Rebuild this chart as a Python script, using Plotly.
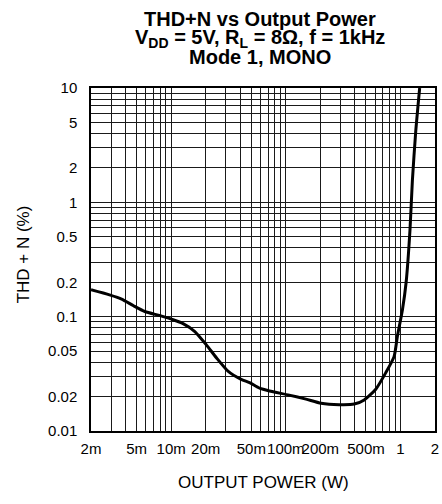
import plotly.graph_objects as go

# Data
power_w = [0.002, 0.0029, 0.0037, 0.0047, 0.0059, 0.008, 0.0104, 0.0127, 0.016,
           0.0202, 0.0248, 0.0313, 0.0408, 0.0483, 0.059, 0.072, 0.107, 0.150,
           0.203, 0.292, 0.395, 0.483, 0.609, 0.745, 0.879, 0.94, 1.04, 1.12,
           1.21, 1.27, 1.36, 1.47]
thd_pct = [0.172, 0.155, 0.1426, 0.1246, 0.111, 0.102, 0.094, 0.087, 0.0745,
           0.057, 0.0437, 0.0334, 0.0283, 0.0265, 0.0237, 0.0224, 0.0206, 0.019,
           0.0175, 0.017, 0.0172, 0.0187, 0.0232, 0.0324, 0.0447, 0.0675, 0.115, 0.2,
           0.571, 1.55, 4.23, 10.0]

x_tick_vals = [0.002, 0.005, 0.01, 0.02, 0.05, 0.1, 0.2, 0.5, 1, 2]
x_tick_text = ["2m", "5m", "10m", "20m", "50m", "100m", "200m", "500m", "1", "2"]
y_tick_vals = [0.01, 0.02, 0.05, 0.1, 0.2, 0.5, 1, 2, 5, 10]
y_tick_text = ["0.01", "0.02", "0.05", "0.1", "0.2", "0.5", "1", "2", "5", "10"]

title_lines = ["THD+N vs Output Power",
               "V<sub>DD</sub> = 5V, R<sub>L</sub> = 8Ω, f = 1kHz",
               "Mode 1, MONO"]
x_title = "OUTPUT POWER (W)"
y_title = "THD + N (%)"


def log_grid(lo_exp, hi_exp, lo, hi):
    vals = []
    for e in range(lo_exp, hi_exp + 1):
        for m in range(1, 10):
            v = m * 10 ** e
            if lo * 0.999 <= v <= hi * 1.001:
                vals.append(v)
    return vals


x_grid = log_grid(-3, 0, 0.002, 2)
y_grid = log_grid(-2, 1, 0.01, 10)

FONT = "Liberation Sans, Arial, Helvetica, sans-serif"

fig = go.Figure()
fig.add_trace(go.Scatter(x=power_w, y=thd_pct, mode="lines",
                         line=dict(color="black", width=3, shape="spline", smoothing=0.6),
                         showlegend=False, hoverinfo="skip"))

axis_common = dict(type="log", showgrid=True, gridcolor="#1a1a1a", gridwidth=1,
                   showline=True, linecolor="black", linewidth=1.5, mirror=True,
                   ticks="", zeroline=False, tickangle=0, ticklabeloverflow="allow",
                   tickfont=dict(family=FONT, size=15, color="black"))

fig.update_xaxes(range=[-2.69897, 0.30103],
                 tickvals=x_tick_vals, ticktext=x_tick_text,
                 minor=dict(tickvals=x_grid, showgrid=True, gridcolor="#1a1a1a", gridwidth=1, ticks=""),
                 ticklabelstandoff=3,
                 **axis_common)
fig.update_yaxes(range=[-2, 1],
                 tickvals=y_tick_vals, ticktext=y_tick_text,
                 minor=dict(tickvals=y_grid, showgrid=True, gridcolor="#1a1a1a", gridwidth=1, ticks=""),
                 ticklabelstandoff=9,
                 **axis_common)

annotations = []
for line, shift in zip(title_lines, [69, 50, 31]):
    annotations.append(dict(text="<b>" + line + "</b>", xref="paper", yref="paper",
                            x=0.49, y=1, yshift=shift, xanchor="center", yanchor="middle",
                            showarrow=False, font=dict(family=FONT, size=20, color="black")))
annotations.append(dict(text=x_title, xref="paper", yref="paper", x=0.5, y=0, yshift=-51,
                        xanchor="center", yanchor="middle", showarrow=False,
                        font=dict(family=FONT, size=17, color="black")))
annotations.append(dict(text=y_title, xref="paper", yref="paper", x=0, y=0.515, xshift=-68,
                        xanchor="center", yanchor="middle", textangle=-90, showarrow=False,
                        font=dict(family=FONT, size=17, color="black")))

fig.update_layout(width=442, height=504,
                  margin=dict(l=91, r=7, t=88, b=73, autoexpand=False),
                  paper_bgcolor="white", plot_bgcolor="white",
                  annotations=annotations)

fig.write_html("out.html", config={"displayModeBar": False},
               post_script="document.body.style.margin='0';document.body.style.overflow='hidden';")
